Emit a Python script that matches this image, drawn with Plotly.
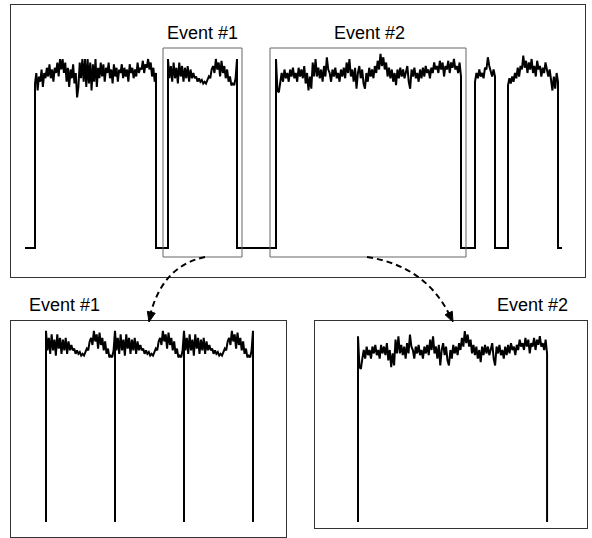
import numpy as np
import plotly.graph_objects as go

W, H = 592, 538

# ---------------- data ----------------
# Single-channel recording (arbitrary units: closed = 0, open ~ 100)
open_start = [10, 143, 251, 450, 483]
open_end = [131, 212, 436, 470, 533]
trace_start = 0
trace_end = 537

seg1 = [94, 100, 90, 98, 95, 102, 92, 100,
        97, 103, 98, 105, 97, 102, 95, 103, 100, 106,
        98, 108, 102, 108, 100, 106,
        95, 103, 92, 102, 97, 105, 94, 100,
        86, 92,
        106, 97, 108, 95, 108, 92, 108,
        94, 106, 90, 105, 95, 108, 92, 103, 97, 106,
        98, 105, 95, 103, 100, 106, 97, 102, 94, 105, 98, 103, 95, 102, 100, 105, 97, 103,
        98, 102, 95, 105, 100, 103, 97, 102, 98, 106, 100, 103,
        102, 107, 100, 105, 103, 108, 102, 106, 98, 103, 95, 100]
event1 = [108, 97, 104, 95, 106, 97, 103, 94, 106, 98, 104, 95, 103, 97, 104, 95, 102, 97,
          100, 97, 98, 95,
          97, 95, 96, 94, 95, 94, 96, 98, 97, 102,
          104, 100, 108, 102, 106, 98, 107, 100, 104, 97,
          102, 95, 98, 93, 94, 93, 97, 108]
event2 = [108, 90, 89, 95, 100, 95, 102,
          97, 100, 95, 102, 98, 103, 97, 100, 95, 103, 98, 102, 97,
          104, 94, 100, 90, 98, 91, 106, 98, 108,
          98, 103, 97, 102, 95, 104, 98, 109, 102,
          100, 95, 102, 98, 103, 97, 100, 95, 102, 98, 103, 97, 106, 100,
          108, 98, 102, 95, 103, 91, 100, 104, 97, 102, 94, 91, 100, 95, 103,
          98, 102, 97, 104, 100, 107, 102, 111, 104, 109, 102, 106,
          98, 103, 97, 102, 95, 100, 93, 102, 97, 103, 98, 102, 97, 100, 104, 95, 91, 102,
          98, 103, 97, 100, 95,
          102, 97, 103, 98, 104, 100, 102, 97, 103, 100, 106, 102,
          104, 100, 107, 102, 106, 98, 104, 102, 107, 100, 106, 103, 108, 102, 104, 100,
          106, 98]
seg4 = [95, 100, 97, 102, 98, 100, 97, 103, 102, 109, 104, 100, 98, 102, 98]
seg5 = [93, 97, 94, 98, 95, 100, 97, 103, 98, 104, 102, 110, 103, 107, 100, 106, 102, 108,
        100, 104, 98, 107, 102, 104, 98, 103, 100, 106, 102, 98, 102, 97, 90, 98, 91, 100, 95]
open_values = [seg1, event1, event2, seg4, seg5]

# Event #1 repeated three times (bottom-left), Event #2 alone (bottom-right)
ev1_len = open_end[1] - open_start[1]
ev2_len = open_end[2] - open_start[2]
rep_start = [0, ev1_len, 2 * ev1_len]
rep_end = [ev1_len, 2 * ev1_len, 3 * ev1_len]

labels = ["Event #1", "Event #2"]


def build(starts, ends, vals, t0, t1):
    xs, ys = [t0], [0]
    for s, e, v in zip(starts, ends, vals):
        xs.append(s); ys.append(0)
        xs += list(np.linspace(s, e, len(v))); ys += list(v)
        xs.append(e); ys.append(0)
    xs.append(t1); ys.append(0)
    return xs, ys


def px(x):
    return x / W


def py(y):
    return 1 - y / H


fig = go.Figure()
line = dict(color="black", width=2)

x0, y0 = build(open_start, open_end, open_values, trace_start, trace_end)
fig.add_trace(go.Scatter(x=x0, y=y0, mode="lines", line=line, xaxis="x", yaxis="y",
                         hoverinfo="skip"))
x1, y1 = build(rep_start, rep_end, [event1] * 3, 0, 3 * ev1_len)
fig.add_trace(go.Scatter(x=x1, y=y1, mode="lines", line=line, xaxis="x2", yaxis="y2",
                         hoverinfo="skip"))
x2, y2 = build([0], [ev2_len], [event2], 0, ev2_len)
fig.add_trace(go.Scatter(x=x2, y=y2, mode="lines", line=line, xaxis="x3", yaxis="y3",
                         hoverinfo="skip"))

frame = dict(showline=True, mirror=True, linecolor="#333333", linewidth=1,
             showgrid=False, zeroline=False, showticklabels=False, ticks="")

fig.update_layout(
    xaxis=dict(domain=[px(11), px(585)], range=[11 - 25, 585 - 25], anchor="y", **frame),
    yaxis=dict(domain=[py(277), py(5)], range=[(248 - 277) / 1.75, (248 - 5) / 1.75],
               anchor="x", **frame),
    xaxis2=dict(domain=[px(11), px(286)], range=[11 - 46, 286 - 46], anchor="y2", **frame),
    yaxis2=dict(domain=[py(537), py(321)], range=[(522 - 537) / 1.77, (522 - 321) / 1.77],
                anchor="x2", **frame),
    xaxis3=dict(domain=[px(315), px(587)],
                range=[(315 - 358) / 1.022, (587 - 358) / 1.022], anchor="y3", **frame),
    yaxis3=dict(domain=[py(528), py(321)], range=[(522 - 528) / 1.72, (522 - 321) / 1.72],
                anchor="x3", **frame),
)

shapes = []
for (xa, xb) in [(163, 242), (270, 466)]:
    shapes.append(dict(type="rect", xref="paper", yref="paper", x0=px(xa), x1=px(xb),
                       y0=py(257), y1=py(48), line=dict(color="#666666", width=1)))

arrows = [((205, 257), (162, 266), (150, 316), (149, 322)),
          ((367, 257), (426, 266), (450, 316), (453, 322))]
for p0, c, p2, tip in arrows:
    path = "M %f,%f Q %f,%f %f,%f" % (px(p0[0]), py(p0[1]), px(c[0]), py(c[1]),
                                      px(p2[0]), py(p2[1]))
    shapes.append(dict(type="path", xref="paper", yref="paper", path=path,
                       line=dict(color="black", width=2, dash="6px,4px")))
    d = np.array(tip, float) - np.array(c, float)
    d /= np.linalg.norm(d)
    perp = np.array([-d[1], d[0]])
    base = np.array(tip, float) - 10 * d
    a = base + 4 * perp
    b = base - 4 * perp
    tri = "M %f,%f L %f,%f L %f,%f Z" % (px(tip[0]), py(tip[1]), px(a[0]), py(a[1]),
                                         px(b[0]), py(b[1]))
    shapes.append(dict(type="path", xref="paper", yref="paper", path=tri,
                       fillcolor="black", line=dict(color="black", width=1)))

font = dict(family="Liberation Sans, Arial, sans-serif", size=18, color="black")
annotations = [
    dict(x=px(202), y=py(33), text=labels[0]),
    dict(x=px(369), y=py(33), text=labels[1]),
    dict(x=px(64), y=py(305), text=labels[0]),
    dict(x=px(532), y=py(305), text=labels[1]),
]
for a in annotations:
    a.update(xref="paper", yref="paper", showarrow=False, font=font,
             xanchor="center", yanchor="middle")

fig.update_layout(
    width=W, height=H, margin=dict(l=0, r=0, t=0, b=0),
    paper_bgcolor="white", plot_bgcolor="white", showlegend=False,
    shapes=shapes, annotations=annotations,
)

fig.write_html("out.html", config={"displayModeBar": False},
               post_script="document.body.style.margin='0';"
                           "document.body.style.overflow='hidden';")
